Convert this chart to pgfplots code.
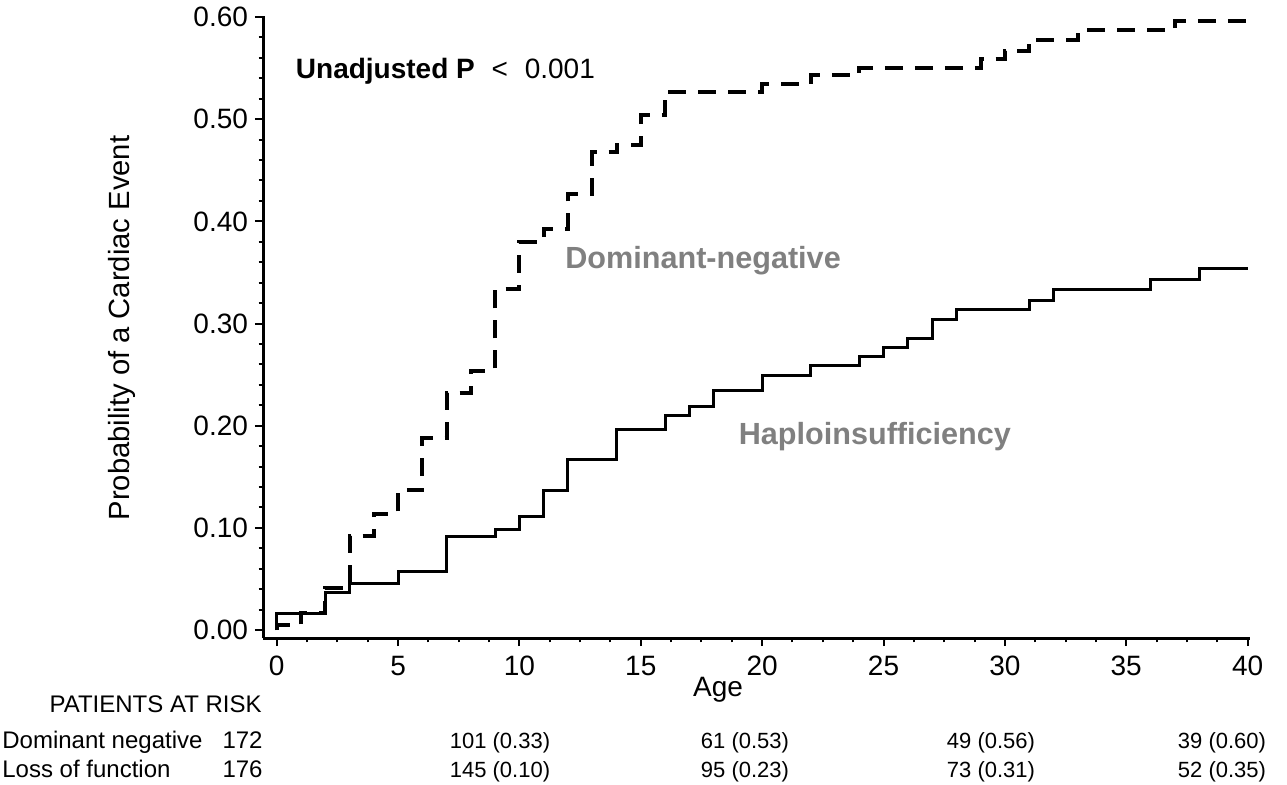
\documentclass[border=0pt]{standalone}
\usepackage{pgfplots}
\pgfplotsset{compat=1.18}
\usepackage{fontspec}
\setmainfont{Liberation Sans}
\definecolor{labgray}{RGB}{128,128,128}
\begin{document}
\begin{tikzpicture}[x=0.5pt,y=0.5pt]
\path[use as bounding box] (0,0) rectangle (1287,784);
\begin{axis}[
  at={(131.5pt,73pt)}, anchor=south west,
  scale only axis, width=493.5pt, height=311pt,
  xmin=-0.566, xmax=40.1, ymin=-0.0078, ymax=0.601,
  axis x line*=bottom, axis y line*=left,
  axis line style={line width=1.5pt, black},
  xtick={0,5,...,40}, minor x tick num=3,
  ytick={0,0.1,0.2,0.3,0.4,0.5,0.6}, minor y tick num=4,
  tick align=outside, major tick length=4pt, minor tick length=2.2pt,
  tick style={line width=1pt, black},
  ticklabel style={font=\fontsize{14}{16}\selectfont},
  xticklabel style={yshift=-1.5pt},
  /pgf/number format/assume math mode=true,
  scaled y ticks=false,
  yticklabel style={/pgf/number format/.cd, fixed, fixed zerofill, precision=2},
  clip=false,
]
% Haploinsufficiency / Loss of function (solid)
\addplot[black, line width=1.5pt, const plot] coordinates {
(0,0) (0,0.016) (2,0.037) (3,0.046) (5,0.057) (7,0.092) (9,0.098) (10,0.111)
(11,0.137) (12,0.167) (14,0.196) (16,0.210) (17,0.219) (18,0.234) (20,0.249)
(22,0.259) (24,0.268) (25,0.277) (26,0.285) (27,0.304) (28,0.314) (31,0.323)
(32,0.333) (36,0.343) (38,0.354) (40,0.354)};
% Dominant-negative (dashed)
\addplot[black, line width=2pt, const plot, dash pattern=on 9pt off 6pt] coordinates {
(0,0) (0,0.005) (1,0.017) (2,0.041) (3,0.092) (4,0.114) (5,0.137) (6,0.188)
(7,0.232) (8,0.254) (9,0.334) (10,0.380) (11,0.393) (12,0.427) (13,0.468)
(14,0.475) (15,0.504) (16,0.527) (20,0.534) (22,0.543) (24,0.550) (29,0.559)
(30,0.567) (31,0.578) (33,0.587) (37,0.596) (40,0.596)};
\node[anchor=west, font=\fontsize{14}{16}\selectfont] at (axis cs:0.5,0.547)
  {\textbf{Unadjusted P}\hspace{0.6em}<\hspace{0.6em}0.001};
\node[anchor=west, text=labgray, font=\bfseries\fontsize{15.3}{17}\selectfont]
  at (axis cs:11.6,0.362) {Dominant-negative};
\node[anchor=west, text=labgray, font=\bfseries\fontsize{15.3}{17}\selectfont]
  at (axis cs:18.75,0.189) {Haploinsufficiency};
\end{axis}
\node[rotate=90, font=\fontsize{14.6}{16}\selectfont] at (122,456) {Probability of a Cardiac Event};
\node[font=\fontsize{14}{16}\selectfont] at (718,94) {Age};
\begin{scope}[every node/.style={font=\fontsize{12}{14}\selectfont, inner sep=0pt}]
\node[anchor=base east] at (262,72) {PATIENTS AT RISK};
\node[anchor=base west] at (2,36) {Dominant negative};
\node[anchor=base east] at (263,36) {172};
\node[anchor=base west] at (2,7) {Loss of function};
\node[anchor=base east] at (263,7) {176};
\end{scope}
\begin{scope}[every node/.style={font=\fontsize{11}{13}\selectfont, inner sep=0pt, anchor=base}]
\node at (500,36) {101 (0.33)};
\node at (745,36) {61 (0.53)};
\node at (991,36) {49 (0.56)};
\node at (1222,36) {39 (0.60)};
\node at (500,7) {145 (0.10)};
\node at (745,7) {95 (0.23)};
\node at (991,7) {73 (0.31)};
\node at (1222,7) {52 (0.35)};
\end{scope}
\end{tikzpicture}
\end{document}
